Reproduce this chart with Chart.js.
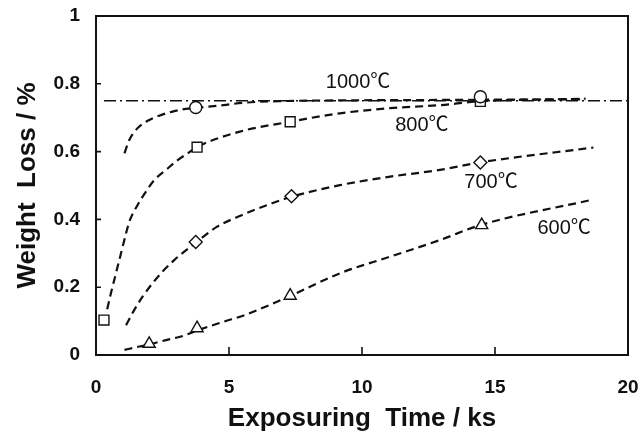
<!DOCTYPE html>
<html>
<head>
<meta charset="utf-8">
<script src="https://cdn.jsdelivr.net/npm/chart.js@4"></script>
<style>
  body { margin: 0; background: #fff; }
  #wrap { width: 643px; height: 436px; }
</style>
</head>
<body>
<div id="wrap"><canvas id="grafico"></canvas></div>
<script>
// measured points (ks, %)
const x1000 = [3.75, 14.45];
const y1000 = [0.73, 0.762];
const x800 = [0.3, 3.8, 7.3, 14.45];
const y800 = [0.103, 0.613, 0.688, 0.748];
const x700 = [3.75, 7.35, 14.45];
const y700 = [0.333, 0.468, 0.568];
const x600 = [2.0, 3.8, 7.3, 14.5];
const y600 = [0.033, 0.079, 0.175, 0.383];

// dashed fitted curves
const fit1000X = [1.07, 1.25, 1.5, 1.88, 2.38, 2.88, 3.38, 3.76, 4.79, 5.53, 7.0, 9.0, 12.0, 14.4, 18.4];
const fit1000Y = [0.595, 0.634, 0.664, 0.688, 0.706, 0.718, 0.726, 0.729, 0.737, 0.744, 0.749, 0.751, 0.752, 0.753, 0.754];
const fit800X = [0.42, 0.56, 0.75, 0.94, 1.13, 1.25, 1.56, 1.88, 2.19, 2.63, 3.07, 3.45, 3.79, 5.41, 7.29, 9.17, 11.05, 12.93, 14.4, 18.4];
const fit800Y = [0.135, 0.182, 0.241, 0.300, 0.359, 0.393, 0.442, 0.482, 0.516, 0.546, 0.575, 0.595, 0.613, 0.659, 0.688, 0.713, 0.728, 0.737, 0.748, 0.756];
const fit700X = [1.13, 1.44, 1.75, 2.13, 2.5, 2.94, 3.32, 3.76, 4.54, 5.5, 6.42, 7.36, 9.17, 11.05, 12.93, 14.44, 18.7];
const fit700Y = [0.088, 0.133, 0.172, 0.212, 0.246, 0.280, 0.305, 0.332, 0.378, 0.413, 0.442, 0.467, 0.501, 0.526, 0.546, 0.568, 0.612];
const fit600X = [1.07, 1.63, 1.94, 2.63, 3.26, 3.79, 4.79, 5.6, 7.29, 9.17, 11.05, 12.93, 14.44, 18.6];
const fit600Y = [0.015, 0.025, 0.030, 0.044, 0.056, 0.072, 0.098, 0.118, 0.174, 0.241, 0.290, 0.339, 0.383, 0.457];

const plateauX = [0.3, 20];
const plateauY = [0.75, 0.75];

const xTicks = [0, 5, 10, 15, 20];
const yTicks = [0, 0.2, 0.4, 0.6, 0.8, 1];

const seriesNames = ['1000℃', '800℃', '700℃', '600℃'];
const nameAt = [[9.85, 0.805], [12.25, 0.678], [14.85, 0.51], [17.6, 0.372]];

const pts = (xs, ys) => xs.map((x, i) => ({ x: x, y: ys[i] }));

function curve(xs, ys) {
  return {
    data: pts(xs, ys), showLine: true, pointRadius: 0,
    borderColor: '#111', borderWidth: 2.2, borderDash: [8, 5],
    cubicInterpolationMode: 'monotone', order: 2
  };
}
function marks(xs, ys, style, r) {
  return {
    data: pts(xs, ys), showLine: false, pointStyle: style, pointRadius: r,
    pointBackgroundColor: '#fff', pointBorderColor: '#111', pointBorderWidth: 1.4, order: 0
  };
}

const boxAndTicks = {
  id: 'boxAndTicks',
  afterDraw(chart) {
    const { ctx, chartArea: a, scales } = chart;
    ctx.save();
    ctx.strokeStyle = '#111';
    ctx.lineWidth = 2;
    ctx.strokeRect(a.left, a.top, a.right - a.left, a.bottom - a.top);
    ctx.lineWidth = 1.6;
    ctx.beginPath();
    xTicks.slice(1, -1).forEach(v => {
      const px = scales.x.getPixelForValue(v);
      ctx.moveTo(px, a.bottom); ctx.lineTo(px, a.bottom - 8);
    });
    yTicks.slice(1, -1).forEach(v => {
      const py = scales.y.getPixelForValue(v);
      ctx.moveTo(a.left, py); ctx.lineTo(a.left + 5, py);
    });
    ctx.stroke();
    ctx.fillStyle = '#111';
    ctx.font = '20px "Liberation Sans", "Noto Sans CJK JP", sans-serif';
    ctx.textAlign = 'center';
    ctx.textBaseline = 'middle';
    seriesNames.forEach((s, i) => {
      ctx.fillText(s, scales.x.getPixelForValue(nameAt[i][0]), scales.y.getPixelForValue(nameAt[i][1]));
    });
    ctx.restore();
  }
};

const tickFont = { family: '"Liberation Sans", sans-serif', size: 19, weight: 'bold' };
const titleFont = { family: '"Liberation Sans", sans-serif', size: 26, weight: 'bold' };

new Chart(document.getElementById('grafico'), {
  type: 'scatter',
  data: {
    datasets: [
      marks(x1000, y1000, 'circle', 6),
      marks(x800, y800, 'rect', 7),
      marks(x700, y700, 'rectRot', 6.5),
      marks(x600, y600, 'triangle', 7),
      curve(fit1000X, fit1000Y),
      curve(fit800X, fit800Y),
      curve(fit700X, fit700Y),
      curve(fit600X, fit600Y),
      {
        data: pts(plateauX, plateauY), showLine: true, pointRadius: 0,
        borderColor: '#111', borderWidth: 1.3, borderDash: [12, 4, 2, 4], order: 3
      }
    ]
  },
  options: {
    responsive: true,
    maintainAspectRatio: false,
    animation: false,
    layout: { padding: { left: 0, right: 15, top: 16, bottom: 0 } },
    plugins: { legend: { display: false }, tooltip: { enabled: false } },
    scales: {
      x: {
        type: 'linear', min: 0, max: 20,
        afterBuildTicks: s => { s.ticks = xTicks.map(v => ({ value: v })); },
        afterFit: s => { s.height = 81; s.paddingLeft = 0; s.paddingRight = 0; },
        grid: { display: false },
        border: { display: false },
        ticks: { color: '#111', padding: 13, autoSkip: false, maxRotation: 0,
                 callback: v => String(v), font: tickFont },
        title: { display: true, text: 'Exposuring  Time / ks', color: '#111',
                 padding: { top: 0, bottom: 2 }, font: titleFont }
      },
      y: {
        type: 'linear', min: 0, max: 1,
        afterBuildTicks: s => { s.ticks = yTicks.map(v => ({ value: v })); },
        afterFit: s => { s.width = 96; s.paddingTop = 0; s.paddingBottom = 0; },
        grid: { display: false },
        border: { display: false },
        ticks: { color: '#111', padding: 8, callback: v => String(v), font: tickFont },
        title: { display: true, text: 'Weight  Loss / %', color: '#111',
                 padding: { top: 12, bottom: 0 }, font: titleFont }
      }
    }
  },
  plugins: [boxAndTicks]
});
</script>
</body>
</html>
